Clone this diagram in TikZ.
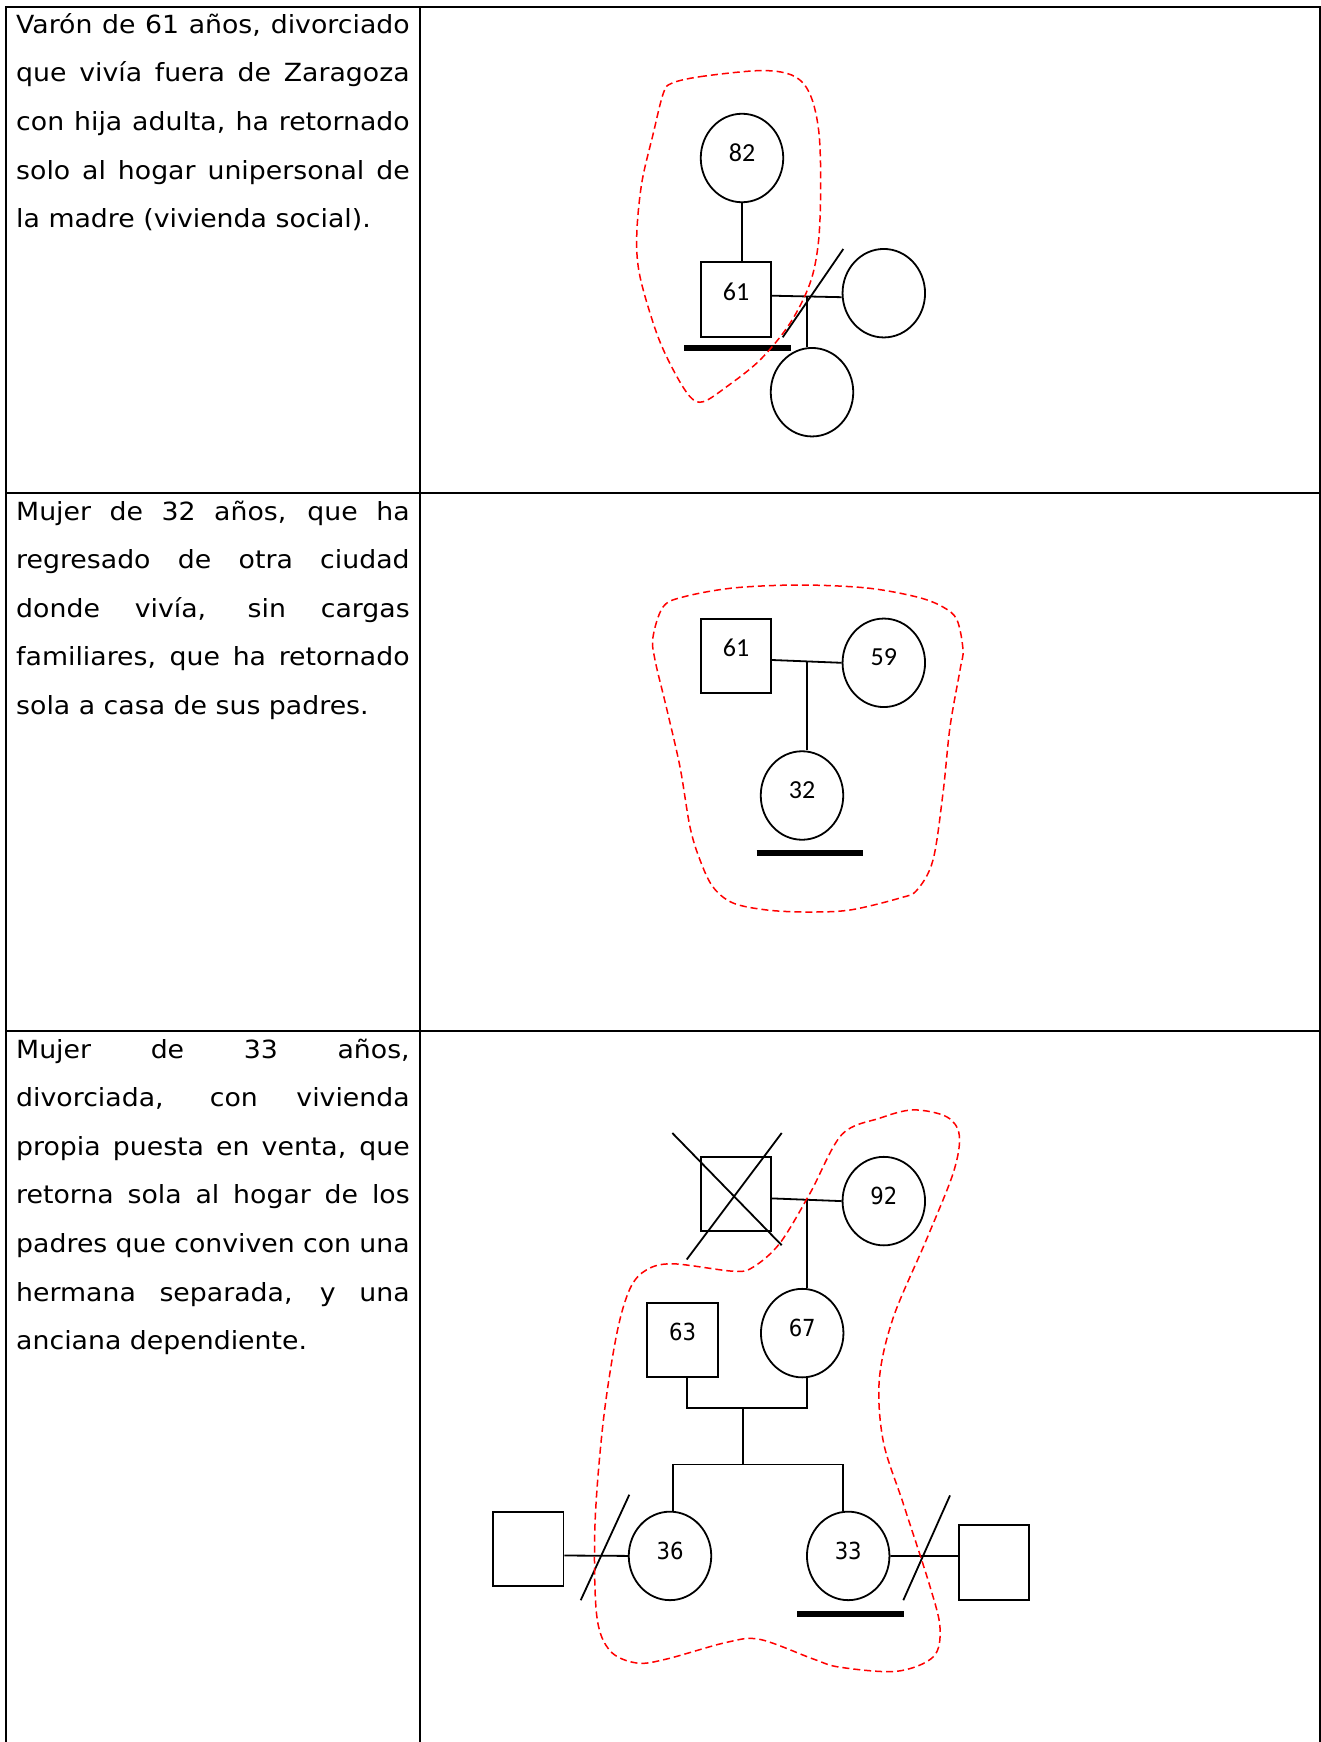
\documentclass[tikz,border=0pt]{standalone}
\usepackage{fontspec}
\setmainfont{DejaVu Sans}[FakeStretch=1.07]
\newfontfamily\calib{Carlito}
\newfontfamily\numfont{DejaVu Sans}[FakeStretch=0.9]
\usetikzlibrary{shapes.geometric,calc}
\tikzset{
  tbl/.style={line width=2pt},
  ped/.style={line width=1.8pt},
  person/.style={draw, line width=1.8pt, ellipse, minimum width=82.5pt, minimum height=88.5pt, inner sep=0pt, text depth=11pt},
  male/.style={draw, line width=1.8pt, rectangle, minimum width=70.5pt, minimum height=74.5pt, inner sep=0pt, text depth=16pt},
  bar/.style={line width=6pt},
  outl/.style={red, line width=1.5pt, dash pattern=on 7pt off 4pt},
  desc/.style={anchor=base west, inner sep=0pt},
  ca/.style={font=\calib\fontsize{26}{30}\selectfont},
  cb/.style={font=\numfont\fontsize{23.5}{27}\selectfont},
}
\newcommand{\desctext}[1]{\parbox[t]{393.5pt}{\fontsize{25}{48.6}\selectfont\hyphenpenalty=10000\exhyphenpenalty=10000\tolerance=10000 #1}}
\begin{document}
\begin{tikzpicture}[x=1pt,y=-1pt]
\useasboundingbox (0,0) rectangle (1321,1742);
% table
\draw[tbl] (6,1742) -- (6,6.7) -- (1319.5,6.7) -- (1319.5,1742);
\draw[tbl] (420,6.7) -- (420,1742);
\draw[tbl] (6,492.7) -- (1319.5,492.7);
\draw[tbl] (6,1030.7) -- (1319.5,1030.7);
% descriptions
\node[desc] (t1) at (16,33.3) {\desctext{Varón de 61 años, divorciado\linebreak que vivía fuera de Zaragoza\linebreak con hija adulta, ha retornado\linebreak solo al hogar unipersonal de\linebreak la madre (vivienda social).}};
\node[desc] (t2) at (16,520) {\desctext{Mujer de 32 años, que ha\linebreak regresado de otra ciudad\linebreak donde vivía, sin cargas\linebreak familiares, que ha retornado\linebreak sola a casa de sus padres.}};
\node[desc] (t3) at (16,1058) {\desctext{Mujer de 33 años,\linebreak divorciada, con vivienda\linebreak propia puesta en venta, que\linebreak retorna sola al hogar de los\linebreak padres que conviven con una\linebreak hermana separada, y una\linebreak anciana dependiente.}};
% ---------- row 1
\node[person, ca] (g82) at (742,158) {82};
\node[male, ca] (a61) at (736,299.5) {61};
\node[person] (aw) at (883.8,293.2) {};
\node[person] (ac) at (812,392.2) {};
\draw[ped] (g82.south) -- (g82.south |- a61.north);
\draw[ped] ($(a61.east)+(0,-3.8)$) -- ($(aw.west)+(0,4)$);
\coordinate (aj) at (807.3,296.5);
\draw[ped] (aj) -- (aj |- ac.north);
\coordinate (as1) at (782.7,337.3);
\coordinate (as2) at (843.3,249);
\draw[ped] (as1) -- (as2);
\coordinate (ab1) at (684.3,348.3);
\coordinate (ab2) at (791,348.3);
\draw[bar] (ab1) -- (ab2);
% ---------- row 2
\node[male, ca] (b61) at (736,656) {61};
\node[person, ca] (b59) at (883.8,662.8) {59};
\node[person, ca] (b32) at (802,795.5) {32};
\draw[ped] ($(b61.east)+(0,4)$) -- (b59.west);
\coordinate (bj) at (807.3,661);
\draw[ped] (bj) -- (bj |- b32.north);
\coordinate (bb1) at (756.7,853.3);
\coordinate (bb2) at (863.3,853.3);
\draw[bar] (bb1) -- (bb2);
% ---------- row 3
\node[male] (cx) at (735.9,1193.9) {};
\coordinate (cx1) at (672.3,1133.0);
\coordinate (cx2) at (781.7,1245.2);
\coordinate (cx3) at (686.7,1259.5);
\coordinate (cx4) at (781.7,1133.0);
\draw[ped] (cx1) -- (cx2);
\draw[ped] (cx3) -- (cx4);
\node[person, cb] (c92) at (883.8,1201.1) {92};
\draw[ped] ($(cx.east)+(0,4.5)$) -- (c92.west);
\coordinate (cj) at (807.3,1199.2);
\node[person, cb] (c67) at (802.2,1333.1) {67};
\draw[ped] (cj) -- (cj |- c67.north);
\node[male, cb] (c63) at (682.5,1339.9) {63};
\coordinate (cpl) at (687.3,1407.8);
\coordinate (cpr) at (807.3,1407.8);
\draw[ped] (cpl |- c63.south) -- (cpl) -- (cpr) -- (cpr |- c67.south);
\coordinate (cd1) at (743.3,1407.8);
\coordinate (cd2) at (743.3,1464.4);
\draw[ped] (cd1) -- (cd2);
\node[person, cb] (c36) at (670,1555.9) {36};
\node[person, cb] (c33) at (848.2,1555.9) {33};
\coordinate (csl) at (672.7,1464.4);
\coordinate (csr) at (843.3,1464.4);
\draw[ped] (csl |- c36.north) -- (csl) -- (csr) -- (csr |- c33.north);
\node[male] (cL) at (528.2,1548.9) {};
\node[male] (cR) at (994,1562.6) {};
\draw[ped] ($(cL.east)+(0,6.6)$) -- (c36.west);
\draw[ped] (c33.east) -- ($(cR.west)+(0,-6.7)$);
\coordinate (cl1) at (580.7,1600.2);
\coordinate (cl2) at (629.3,1494.7);
\draw[ped] (cl1) -- (cl2);
\coordinate (cr1) at (903.3,1600.2);
\coordinate (cr2) at (950,1495.4);
\draw[ped] (cr1) -- (cr2);
\coordinate (cb1) at (797.3,1614.3);
\coordinate (cb2) at (904,1614.3);
\draw[bar] (cb1) -- (cb2);
% ---------- red outlines
\draw[outl] plot[smooth cycle, tension=0.55] coordinates {
 (671.7,83.3) (700,76.7) (756.7,70.7) (786.7,73.3) (803.3,83.3) (813.3,103.3)
 (819.3,136.7) (820.7,190) (818.3,243.3) (810,283.3) (790,323.3) (760,360)
 (726.7,386.7) (703.3,401.7) (690,396.7) (673.3,370) (656.7,333.3) (640,276.7)
 (636.7,236.7) (641.7,183.3) (653.3,133.3) (663.3,93.3)};
\draw[outl] plot[smooth cycle, tension=0.55] coordinates {
 (800,585) (867,588) (917,597) (943,607) (957,620) (963,650) (960,670)
 (950,727) (943,793) (933,860) (917,890) (900,898) (850,910) (807,912)
 (767,910) (733,903) (713,887) (700,860) (690,827) (680,767) (667,710)
 (655,660) (653,637) (663,607) (683,597) (733,588)};
\draw[outl] plot[smooth cycle, tension=0.55] coordinates {
 (841.7,1134.7) (880,1118.1) (913.3,1109.9) (946.7,1116.8) (959.3,1135.5)
 (953.3,1172.7) (926.7,1239) (893.3,1317.4) (879.3,1379.7) (883.3,1441.5)
 (903.3,1503.8) (930,1586.5) (940,1627.9) (933.3,1656.8) (896.7,1671.3)
 (840,1667.2) (813.3,1659) (760,1639.4) (726.7,1642.3) (666.7,1659)
 (636.7,1663) (610,1650.7) (596.7,1615.3) (595,1524.4) (603.3,1420.9)
 (616.7,1334.1) (630,1288.6) (646.7,1269.7) (673.3,1263.8) (733.3,1271.2)
 (753.3,1267) (780,1243) (810,1193.3)};
\end{tikzpicture}
\end{document}
